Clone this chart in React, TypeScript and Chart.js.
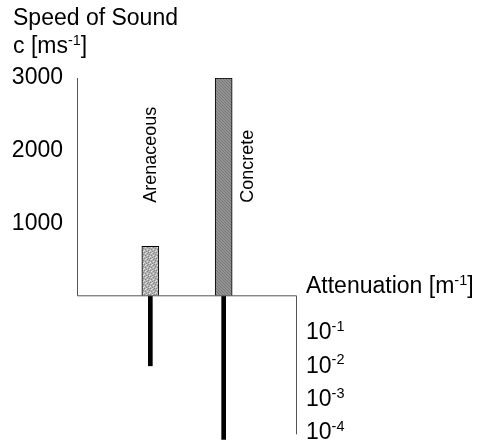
import React, { useEffect, useRef } from 'react';
import { Chart, registerables } from 'chart.js';

Chart.register(...registerables);

// ---- data ----
const categories = ['Arenaceous', 'Concrete'];
const categoryPositions = [1, 2];
const speedOfSound = [680, 3000]; // c [m/s]
const attenuation = [0.008, 0.00005]; // [1/m]
const speedTicks = [1000, 2000, 3000];
const attenuationTickExponents = [-1, -2, -3, -4];
const speedTitle = ['Speed of Sound'];
const speedUnit = [{ text: 'c [ms' }, { text: '-1', sup: true }, { text: ']' }];
const attenuationTitle = [{ text: 'Attenuation [m' }, { text: '-1', sup: true }, { text: ']' }];

const FONT = '"Liberation Sans", Arial, Helvetica, sans-serif';
const LOWER_DECADES = 4.35;
const SPEED_MAX = 3000;
const SPEED_MIN = -2000;

type Part = { text: string; sup?: boolean };

function drawRich(ctx: CanvasRenderingContext2D, parts: Part[], x: number, y: number, size: number) {
  let cx = x;
  ctx.textBaseline = 'alphabetic';
  ctx.textAlign = 'left';
  for (const p of parts) {
    const s = p.sup ? size * 0.63 : size;
    ctx.font = `${s}px ${FONT}`;
    const dy = p.sup ? -size * 0.36 : 0;
    ctx.fillText(p.text, cx, y + dy);
    cx += ctx.measureText(p.text).width;
  }
}

function makeStipple(): CanvasPattern | string {
  const c = document.createElement('canvas');
  c.width = 6;
  c.height = 6;
  const g = c.getContext('2d');
  if (!g) return '#b4b4b4';
  g.fillStyle = '#b2b2b2';
  g.fillRect(0, 0, 6, 6);
  g.fillStyle = '#858585';
  [[0, 0], [3, 1], [1, 3], [4, 4], [5, 2], [2, 5], [4, 0]].forEach(([a, b]) => g.fillRect(a, b, 1, 1));
  g.fillStyle = '#e4e4e4';
  [[2, 0], [5, 5], [0, 4], [3, 3], [1, 1]].forEach(([a, b]) => g.fillRect(a, b, 1, 1));
  return g.createPattern(c, 'repeat') || '#b4b4b4';
}

function makeHatch(): CanvasPattern | string {
  const c = document.createElement('canvas');
  c.width = 3;
  c.height = 3;
  const g = c.getContext('2d');
  if (!g) return '#8a8a8a';
  g.fillStyle = '#939393';
  g.fillRect(0, 0, 3, 3);
  g.fillStyle = '#777777';
  g.fillRect(0, 0, 1, 1);
  g.fillRect(1, 1, 1, 1);
  g.fillRect(2, 2, 1, 1);
  return g.createPattern(c, 'repeat') || '#8a8a8a';
}

const decorPlugin = {
  id: 'decor',
  afterDraw(chart: any) {
    const ctx: CanvasRenderingContext2D = chart.ctx;
    const x = chart.scales.x;
    const y = chart.scales.y;
    const y2 = chart.scales.y2;
    const area = chart.chartArea;
    const base = y.getPixelForValue(0);
    ctx.save();
    // axis lines
    ctx.strokeStyle = '#555';
    ctx.lineWidth = 1;
    ctx.beginPath();
    ctx.moveTo(area.left + 0.5, y.getPixelForValue(SPEED_MAX));
    ctx.lineTo(area.left + 0.5, base);
    ctx.lineTo(area.right - 0.5, base);
    ctx.lineTo(area.right - 0.5, y2.getPixelForValue(Math.pow(10, -4.15)));
    ctx.stroke();

    ctx.fillStyle = '#000';
    // titles
    ctx.font = `23px ${FONT}`;
    ctx.textBaseline = 'alphabetic';
    ctx.textAlign = 'left';
    ctx.fillText(speedTitle[0], 13, 25);
    drawRich(ctx, speedUnit, 13, 53, 23);
    drawRich(ctx, attenuationTitle, area.right + 9, base - 3, 23);

    // attenuation tick labels
    y2.ticks.forEach((t: any) => {
      const exp = Math.round(Math.log10(t.value));
      const py = y2.getPixelForValue(t.value);
      drawRich(ctx, [{ text: '10' }, { text: String(exp), sup: true }], area.right + 9, py + 10, 23);
    });

    // rotated category labels
    ctx.font = `18px ${FONT}`;
    ctx.textBaseline = 'middle';
    ctx.textAlign = 'left';
    const labelY = y.getPixelForValue(1280);
    categories.forEach((name, i) => {
      const px = x.getPixelForValue(categoryPositions[i]) + (i === 0 ? 0 : 23);
      ctx.save();
      ctx.translate(px, labelY);
      ctx.rotate(-Math.PI / 2);
      ctx.fillText(name, 0, 1);
      ctx.restore();
    });
    ctx.restore();
  },
};

export default function App() {
  const ref = useRef<HTMLCanvasElement | null>(null);
  useEffect(() => {
    if (!ref.current) return;
    const patterns = [makeStipple(), makeHatch()];
    const chart = new Chart(ref.current, {
      type: 'bar',
      data: {
        datasets: [
          {
            label: 'Speed of sound',
            data: categoryPositions.map((p, i) => ({ x: p, y: speedOfSound[i] })),
            yAxisID: 'y',
            xAxisID: 'x',
            backgroundColor: patterns,
            borderColor: '#000',
            borderWidth: 1,
            barThickness: 17,
            grouped: false,
          } as any,
          {
            label: 'Attenuation',
            data: categoryPositions.map((p, i) => ({ x: p, y: [1, attenuation[i]] })),
            yAxisID: 'y2',
            xAxisID: 'x',
            backgroundColor: '#000',
            borderWidth: 0,
            barThickness: 4,
            grouped: false,
          } as any,
        ],
      },
      options: {
        animation: false,
        responsive: false,
        maintainAspectRatio: false,
        layout: { padding: { top: 78, bottom: 7, left: 0, right: 0 } },
        plugins: { legend: { display: false }, tooltip: { enabled: false }, title: { display: false } },
        scales: {
          x: { type: 'linear', min: 0, max: 3, display: false, offset: false },
          y: {
            type: 'linear',
            position: 'left',
            min: SPEED_MIN,
            max: SPEED_MAX,
            grid: { display: false, drawTicks: false },
            border: { display: false },
            ticks: {
              color: '#000',
              padding: 14,
              font: { family: FONT, size: 23 },
              callback: (v: any) => String(v),
            },
            afterBuildTicks: (s: any) => {
              s.ticks = speedTicks.map((v) => ({ value: v }));
            },
            afterFit: (s: any) => {
              s.width = 77;
              s.paddingTop = 0;
              s.paddingBottom = 0;
            },
          },
          y2: {
            type: 'logarithmic',
            position: 'right',
            min: Math.pow(10, -LOWER_DECADES),
            max: Math.pow(10, LOWER_DECADES * (SPEED_MAX / -SPEED_MIN)),
            grid: { display: false, drawTicks: false },
            border: { display: false },
            ticks: { display: false },
            afterBuildTicks: (s: any) => {
              s.ticks = attenuationTickExponents.map((e) => ({ value: Math.pow(10, e) }));
            },
            afterFit: (s: any) => {
              s.width = 186;
              s.paddingTop = 0;
              s.paddingBottom = 0;
            },
          },
        } as any,
      },
      plugins: [decorPlugin],
    });
    return () => chart.destroy();
  }, []);
  return (
    <div style={{ position: 'fixed', left: 0, top: 0, width: 483, height: 448, background: '#fff' }}>
      <canvas ref={ref} width={483} height={448} style={{ display: 'block' }} />
    </div>
  );
}
